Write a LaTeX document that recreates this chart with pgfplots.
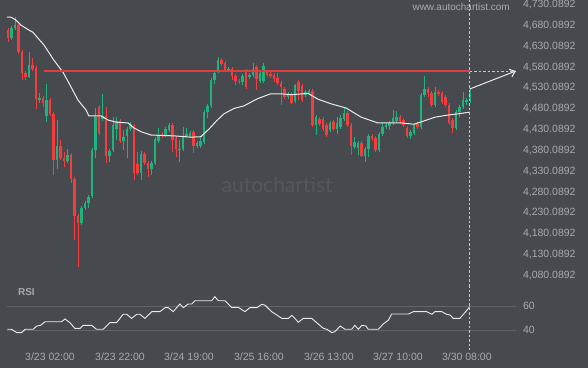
\documentclass[border=0pt]{standalone}
\usepackage{fontspec}
\setmainfont{Liberation Sans}
\newfontfamily\wmfont{Lato}
\usepackage{pgfplots}
\pgfplotsset{compat=1.18}
\usepackage{pgfplotstable}
\usetikzlibrary{arrows.meta}
\definecolor{bg}{RGB}{70,73,78}
\definecolor{cgreen}{RGB}{30,180,128}
\definecolor{cred}{RGB}{246,60,60}
\definecolor{lvl}{RGB}{222,62,62}
\definecolor{lbl}{RGB}{168,170,175}
\definecolor{gridc}{RGB}{96,99,104}
\definecolor{wm}{RGB}{84,87,92}
\definecolor{dashc}{RGB}{200,200,200}

\pgfplotstableread{
i O H L C
1 4650.1 4679 4645 4674.1
2 4674.1 4700.6 4669 4681.3
6 4556.4 4616.5 4554 4585.3
9 4501.2 4518 4494 4506
11 4462.8 4539.6 4448.4 4501.2
14 4357.1 4453.2 4335.5 4390.9
17 4354.7 4384 4350 4369.1
21 4205.7 4246 4201 4241.8
22 4241.8 4258 4236 4253.8
23 4253.8 4273 4241.8 4268.2
24 4270.6 4386 4266 4381.3
25 4381.3 4482 4362 4460.4
27 4455.6 4515.6 4451 4462.8
29 4366.7 4384 4352 4378.7
30 4381.3 4460 4376 4441.2
31 4431.7 4460 4405 4450.8
33 4402.9 4429 4381 4412.5
34 4414.9 4436 4362 4431.7
35 4431.7 4448 4427 4443.6
38 4325.8 4379 4309 4371.5
41 4335.5 4355 4321 4349.9
42 4349.9 4412 4345 4407.7
43 4402.9 4434 4398 4417.3
45 4417.3 4436 4412 4431.7
46 4429.3 4446 4424 4441.2
49 4381.3 4405 4352 4383.7
50 4383.7 4436 4379 4414.9
51 4414.9 4434 4410 4419.7
52 4414.9 4427 4410 4422.1
54 4390.9 4403 4386 4398.1
55 4390.9 4415 4386 4402.9
56 4400.5 4477 4396 4472.4
57 4472.4 4491 4458 4486.8
58 4486.8 4554 4482 4549.2
59 4549.2 4571 4540 4566.1
60 4570.9 4604 4566 4597.3
63 4573.3 4580 4568 4575.7
67 4544.4 4564 4537 4558.9
69 4556.4 4566 4552 4561.3
70 4561.3 4590 4556 4575.7
72 4546.8 4571 4542 4566.1
73 4546.8 4590 4542 4582.9
80 4508.4 4520 4504 4515.6
82 4498.8 4540 4494 4537.2
85 4513.2 4525 4508 4520.4
86 4518.0 4528 4513 4522.8
88 4441.2 4465 4417 4460.4
92 4429.3 4451 4424 4446.0
94 4431.7 4460 4419 4446.0
95 4436.5 4465 4431 4458.0
96 4455.6 4482 4451 4470.0
99 4388.5 4412 4383 4400.5
100 4386.1 4403 4369 4398.1
102 4366.7 4388 4352 4383.7
103 4383.7 4420 4364 4414.9
106 4381.3 4424 4376 4419.7
107 4419.7 4446 4415 4436.5
108 4436.5 4446 4431 4441.2
109 4438.9 4451 4429 4446.0
110 4446.0 4477 4441 4458.0
111 4450.8 4475 4446 4460.4
115 4414.9 4429 4408 4424.5
116 4422.1 4446 4417 4441.2
118 4436.5 4518 4432 4513.2
119 4513.2 4558.9 4508 4527.6
122 4489.2 4532 4484 4520.4
128 4434.1 4477 4429 4472.4
129 4472.4 4489 4460 4484.4
130 4484.4 4520 4480 4501.2
131 4496.4 4506 4489 4501.2
132 4498.8 4530 4494 4525.2
}\greencandles

\pgfplotstableread{
i O H L C
0 4669.3 4674.1 4640.5 4650.1
3 4681.3 4684 4612 4616.5
4 4616.5 4621 4549.2 4566.1
5 4566.1 4571 4549 4556.4
7 4585.3 4602 4571 4575.7
8 4578.1 4583 4479.6 4503.6
10 4506 4511 4484 4494
12 4501.2 4506 4463 4467.6
13 4467.6 4472 4321 4357.1
15 4390.9 4405 4357 4361.9
16 4361.9 4376 4340 4354.7
18 4369.1 4374 4301.8 4311.4
19 4311.4 4316 4164.9 4222.6
20 4222.6 4227 4100.1 4205.7
26 4484.4 4489 4417 4422.1
28 4462.8 4484.4 4349.9 4366.7
32 4450.8 4455 4398 4402.9
36 4438.9 4444 4309 4325.8
37 4347.5 4376 4321 4325.8
39 4371.5 4376 4345 4349.9
40 4349.9 4355 4316 4335.5
44 4419.7 4424 4410 4414.9
47 4441.2 4446 4376 4405.3
48 4410.1 4415 4364 4383.7
53 4424.5 4429 4374 4390.9
61 4597.3 4602 4583 4587.7
62 4590.1 4595 4568 4573.3
64 4575.7 4580 4549 4558.9
65 4558.9 4564 4537 4546.8
66 4546.8 4552 4540 4544.4
68 4570.9 4576 4528 4532.4
71 4580.5 4585 4525 4551.6
74 4568.5 4573 4556 4561.3
75 4563.7 4573 4554 4558.9
76 4561.3 4566 4544 4551.6
77 4554.0 4566 4537 4542.0
78 4542.0 4547 4489 4532.4
79 4527.6 4532 4504 4508.4
81 4515.6 4520 4491.6 4494.0
83 4544.4 4549 4501 4522.8
84 4534.8 4540 4496 4501.2
87 4522.8 4528 4436 4441.2
89 4455.6 4460 4439 4443.6
90 4455.6 4460 4427 4431.7
91 4441.2 4446 4412 4417.3
93 4448.4 4453 4427 4431.7
97 4470.0 4475 4436 4441.2
98 4441.2 4446 4369 4390.9
101 4398.1 4403 4364 4366.7
104 4414.9 4420 4403 4407.7
105 4410.1 4415 4376 4381.3
112 4460.4 4465 4446 4450.8
113 4453.2 4458 4436 4441.2
114 4434.1 4439 4410 4414.9
117 4443.6 4448 4432 4436.5
120 4527.6 4532 4508 4518.0
121 4518.0 4523 4484 4489.2
123 4520.4 4525 4511 4515.6
124 4518.0 4523 4492 4496.4
125 4508.4 4513 4484 4489.2
126 4489.2 4494 4441 4446.0
127 4453.2 4458 4422 4434.1
}\redcandles

\pgfplotsset{
  chartbase/.style={
    scale only axis, width=518pt,
    xmin=-2.2857, xmax=145.714,
    axis line style={draw=none},
    major tick length=0pt,
    clip=false,
    tick label style={font=\fontsize{10.5}{12}\selectfont, text=lbl},
    yticklabel pos=right,
    yticklabel style={anchor=west, xshift=1.5pt},
  }
}

\begin{document}
\begin{tikzpicture}
\fill[bg] (0pt,0pt) rectangle (588pt,368pt);
\useasboundingbox (0pt,0pt) rectangle (588pt,368pt);

% ---------- main price panel ----------
\begin{axis}[chartbase,
  at={(0pt,83pt)}, anchor=south west, height=285pt,
  ymin=4056.8, ymax=4741.4,
  xtick=\empty,
  ytick={4080.0892,4130.0892,4180.0892,4230.0892,4280.0892,4330.0892,4380.0892,4430.0892,4480.0892,4530.0892,4580.0892,4630.0892,4680.0892,4730.0892},
  yticklabels={{4,080.0892},{4,130.0892},{4,180.0892},{4,230.0892},{4,280.0892},{4,330.0892},{4,380.0892},{4,430.0892},{4,480.0892},{4,530.0892},{4,580.0892},{4,630.0892},{4,680.0892},{4,730.0892}},
]
\node[text=wm, font=\wmfont\fontsize{21}{24}\selectfont] at (axis description cs:0.535,0.352) {autochartist};
\node[anchor=east, text=lbl, font=\fontsize{10}{12}\selectfont] at (axis description cs:0.991,0.976) {www.autochartist.com};

% wicks
\addplot[forget plot, draw=none, mark=none,
  error bars/.cd, y dir=plus, y explicit, error mark=none,
  error bar style={draw=cgreen, line width=0.9pt, solid}]
  table[x=i, y=L, y error expr=\thisrow{H}-\thisrow{L}] {\greencandles};
\addplot[forget plot, draw=none, mark=none,
  error bars/.cd, y dir=plus, y explicit, error mark=none,
  error bar style={draw=cred, line width=0.9pt, solid}]
  table[x=i, y=L, y error expr=\thisrow{H}-\thisrow{L}] {\redcandles};
% bodies
\addplot[forget plot, draw=none, mark=none,
  error bars/.cd, y dir=plus, y explicit, error mark=none,
  error bar style={draw=cgreen, line width=2.6pt, solid}]
  table[x=i, y=O, y error expr={max(\thisrow{C}-\thisrow{O},2.4)}] {\greencandles};
\addplot[forget plot, draw=none, mark=none,
  error bars/.cd, y dir=plus, y explicit, error mark=none,
  error bar style={draw=cred, line width=2.6pt, solid}]
  table[x=i, y=C, y error expr={max(\thisrow{O}-\thisrow{C},2.4)}] {\redcandles};

% moving average
\addplot[white!92!black, line width=1pt, mark=none] coordinates {
(-0.3,4700) (0.9,4700) (2.3,4693) (3.7,4681) (6,4669) (7.1,4664) (10.3,4633) (13.1,4597) (15.7,4568) (17.4,4542) (20,4501) (22.3,4477) (23.1,4463) (26.6,4463) (28.6,4453) (30.9,4448) (34.3,4446) (36,4434) (38,4425) (40.9,4417) (47.4,4415) (52.3,4412) (55.1,4413) (57.5,4432) (59.7,4452) (61.7,4468) (64.6,4481) (67.4,4487) (71.2,4504) (75.0,4516) (78,4516) (80.9,4514) (85.7,4517) (88.6,4503) (92.3,4492) (96.6,4482) (100.9,4460) (105.7,4446) (109.4,4446) (112.3,4446) (116,4443) (118.9,4451) (122,4460) (125.7,4465) (128.6,4468) (131.9,4472)
};

% resistance level
\addplot[lvl, line width=2.6pt, mark=none] coordinates {(10.3,4570.9) (131.9,4570.9)};
\addplot[dashc, line width=0.7pt, dash pattern=on 2.5pt off 2pt, mark=none] coordinates {(131.9,4570.9) (145.1,4570.9)};
% forecast arrow
\addplot[white!92!black, line width=1pt, mark=none, -{Straight Barb[length=5pt,width=8pt]}] coordinates {(131.9,4527.6) (145.1,4570.9)};
% current time marker
\addplot[dashc, line width=0.7pt, dash pattern=on 2.5pt off 2pt, mark=none] coordinates {(131.9,4741.4) (131.9,4056.8)};
\end{axis}

% ---------- RSI panel ----------
\begin{axis}[chartbase,
  at={(0pt,23pt)}, anchor=south west, height=60pt,
  ymin=27.5, ymax=77.5,
  ytick={40,60}, yticklabels={40,60},
  xtick={12,32,51.7,71.7,91.7,111.4,131.1},
  xticklabels={3/23 02:00,3/23 22:00,3/24 19:00,3/25 16:00,3/26 13:00,3/27 10:00,3/30 08:00},
  xticklabel style={yshift=-4pt},
]
\node[anchor=west, text=lbl, font=\bfseries\fontsize{10}{12}\selectfont] at (axis description cs:0.028,0.883) {RSI};
\addplot[gridc, line width=0.8pt, mark=none, forget plot] coordinates {(-0.3,60) (145.1,60)};
\addplot[gridc, line width=0.8pt, mark=none, forget plot] coordinates {(-0.3,40) (145.1,40)};
\addplot[white!92!black, line width=0.9pt, mark=none] coordinates {
(-0.2,40.6) (1.0,40.6) (2.5,37.8) (3.9,37.8) (4.9,40.6) (7.2,40.6) (8.2,43.3) (9.3,43.9) (10.6,46.9) (15.3,46.9) (16.3,49.2) (17.7,46.1) (19.1,41.4) (20.6,41.4) (21.5,43.9) (23.9,43.9) (25.3,40.6) (27.2,40.6) (29.1,46.1) (31.0,46.1) (32.9,53.1) (33.9,53.1) (35.3,49.7) (36.8,53.1) (37.7,53.1) (39.1,49.7) (41.1,55.3) (43.4,55.3) (44.9,58.6) (45.8,58.6) (47.2,55.3) (49.1,61.7) (50.1,58.6) (51.5,61.7) (52.5,61.7) (53.4,64.4) (58.2,64.4) (59.1,67.8) (60.1,64.4) (62,64.4) (63.9,58.9) (65.8,58.9) (67.7,55.3) (69.1,58.6) (71.1,58.6) (72.5,61.4) (73.4,60.8) (75.3,55.3) (76.8,52.5) (78.2,49.7) (80.1,49.7) (81.1,52.2) (82,49.7) (82.9,46.4) (84.4,49.7) (86.8,49.7) (88.2,46.1) (90.1,41.4) (91.1,40.6) (92.5,37.8) (93.4,38.6) (94.9,43.3) (96.3,40.6) (98.2,40.6) (99.1,43.9) (100.1,40.6) (101.1,43.9) (102.3,43.3) (102.9,40.6) (105.8,40.6) (107.2,45) (108.7,48.3) (109.6,53.3) (114.4,53.3) (115.8,55.3) (119.6,55.3) (121.1,53.1) (122,55.3) (123.9,55.3) (125.3,53.1) (126.3,52.5) (127.2,49.7) (129.1,49.7) (130.6,54.7) (131.9,59.3)
};
\addplot[dashc, line width=0.7pt, dash pattern=on 2.5pt off 2pt, mark=none] coordinates {(131.9,77.5) (131.9,23.3)};
\end{axis}
\end{tikzpicture}
\end{document}
